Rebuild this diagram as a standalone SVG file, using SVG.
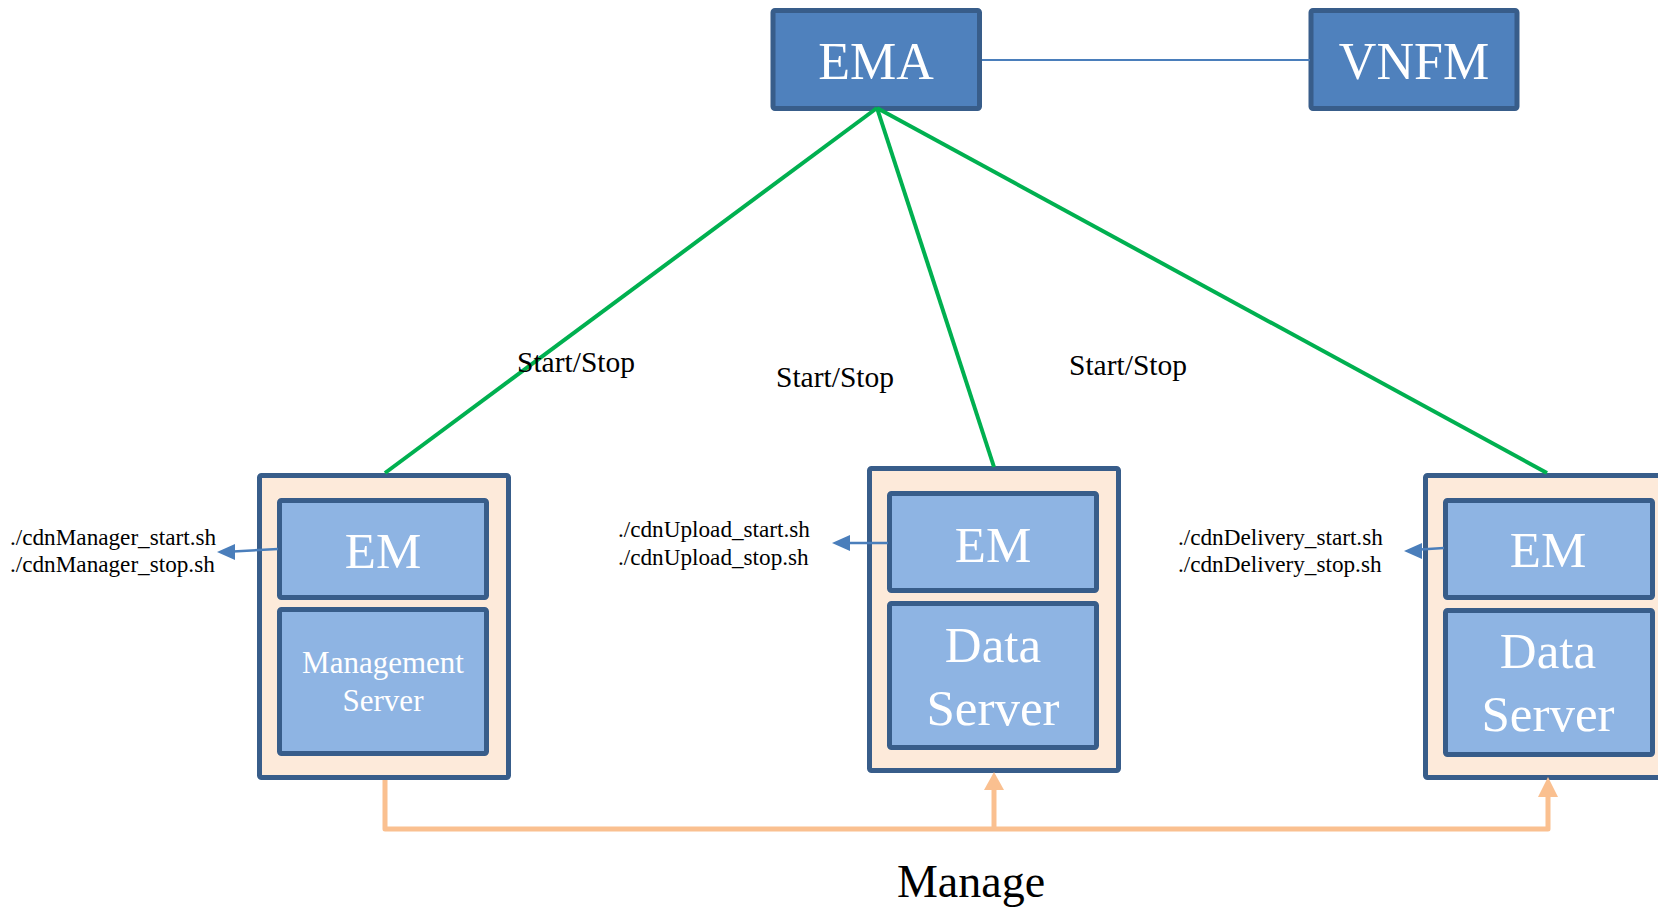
<svg xmlns="http://www.w3.org/2000/svg" width="1658" height="909" viewBox="0 0 1658 909">
  <style>
    .top { fill: #4F81BD; stroke: #385D8A; stroke-width: 5; }
    .host { fill: #FDEADA; stroke: #385D8A; stroke-width: 5; }
    .part { fill: #8EB4E3; stroke: #385D8A; stroke-width: 5; }
    .wt { fill: #FFFFFF; font-family: "Liberation Serif", "Times New Roman", serif; text-anchor: middle; }
    .bt { fill: #000000; font-family: "Liberation Serif", "Times New Roman", serif; }
    .green { stroke: #00B050; stroke-width: 4; fill: none; }
    .cmd { stroke: #4A7EBB; stroke-width: 2.5; fill: none; }
    .mgr { stroke: #FAC090; stroke-width: 5; fill: none; stroke-linejoin: round; }
  </style>
  <rect width="1658" height="909" fill="#FFFFFF"/>

  <g id="ema">
    <rect class="top" x="773" y="10.5" width="206.5" height="98" rx="2"/>
    <text class="wt" x="876" y="79" font-size="52">EMA</text>
  </g>

  <g id="vnfm">
    <rect class="top" x="1311" y="10.5" width="206" height="98" rx="2"/>
    <text class="wt" x="1414" y="79" font-size="52">VNFM</text>
  </g>

  <g id="management-host">
    <rect class="host" x="259.5" y="475.5" width="249" height="302" rx="2"/>
    <g id="management-em">
      <rect class="part" x="279.5" y="500.5" width="207" height="97" rx="2"/>
      <text class="wt" x="383" y="568" font-size="51">EM</text>
    </g>
    <g id="management-server">
      <rect class="part" x="279.5" y="609.5" width="207" height="144" rx="2"/>
      <text class="wt" x="383" y="673" font-size="31">Management</text>
      <text class="wt" x="383" y="711" font-size="31">Server</text>
    </g>
  </g>

  <g id="upload-host">
    <rect class="host" x="869.5" y="468.5" width="249" height="302" rx="2"/>
    <g id="upload-em">
      <rect class="part" x="889.5" y="493.5" width="207" height="97" rx="2"/>
      <text class="wt" x="993" y="562" font-size="51">EM</text>
    </g>
    <g id="upload-server">
      <rect class="part" x="889.5" y="603.5" width="207" height="144" rx="2"/>
      <text class="wt" x="993" y="662" font-size="51">Data</text>
      <text class="wt" x="993" y="725" font-size="51">Server</text>
    </g>
  </g>

  <g id="delivery-host">
    <rect class="host" x="1425.5" y="475.5" width="249" height="302" rx="2"/>
    <g id="delivery-em">
      <rect class="part" x="1445.5" y="500.5" width="207" height="97" rx="2"/>
      <text class="wt" x="1548" y="567" font-size="51">EM</text>
    </g>
    <g id="delivery-server">
      <rect class="part" x="1445.5" y="610.5" width="207" height="144" rx="2"/>
      <text class="wt" x="1548" y="668" font-size="51">Data</text>
      <text class="wt" x="1548" y="731" font-size="51">Server</text>
    </g>
  </g>

  <!-- connectors -->
  <g id="connectors">
    <line x1="982" y1="60" x2="1310" y2="60" stroke="#4A7EBB" stroke-width="2"/>
    <line class="green" x1="877" y1="108" x2="385" y2="473"/>
    <line class="green" x1="877" y1="108" x2="994" y2="467"/>
    <line class="green" x1="877" y1="108" x2="1547" y2="473"/>

    <!-- script calls -->
    <line class="cmd" x1="278" y1="549" x2="233" y2="551.5"/>
    <path d="M217,552 L235,544 L235,560 Z" fill="#4A7EBB"/>
    <line class="cmd" x1="888" y1="543" x2="848" y2="543"/>
    <path d="M832,543 L850,535 L850,551 Z" fill="#4A7EBB"/>
    <line class="cmd" x1="1444" y1="548" x2="1420" y2="549.5"/>
    <path d="M1404,551 L1422,543 L1422,559 Z" fill="#4A7EBB"/>

    <!-- manage bus -->
    <path class="mgr" d="M385,780 L385,829 L1548,829 L1548,795"/>
    <line class="mgr" x1="994" y1="829" x2="994" y2="788"/>
    <path d="M994,772 L1004,790 L984,790 Z" fill="#FAC090"/>
    <path d="M1548,777 L1558,797 L1538,797 Z" fill="#FAC090"/>
  </g>

  <!-- labels -->
  <g id="labels">
    <text class="bt" x="517" y="372" font-size="29.5">Start/Stop</text>
    <text class="bt" x="776" y="387" font-size="29.5">Start/Stop</text>
    <text class="bt" x="1069" y="375" font-size="29.5">Start/Stop</text>

    <text class="bt" x="10" y="545" font-size="23.2">./cdnManager_start.sh</text>
    <text class="bt" x="10" y="572" font-size="23.2">./cdnManager_stop.sh</text>
    <text class="bt" x="618" y="537" font-size="23.2">./cdnUpload_start.sh</text>
    <text class="bt" x="618" y="565" font-size="23.2">./cdnUpload_stop.sh</text>
    <text class="bt" x="1178" y="545" font-size="23.2">./cdnDelivery_start.sh</text>
    <text class="bt" x="1178" y="572" font-size="23.2">./cdnDelivery_stop.sh</text>

    <text class="bt" x="971" y="897" font-size="46" text-anchor="middle">Manage</text>
  </g>
</svg>
